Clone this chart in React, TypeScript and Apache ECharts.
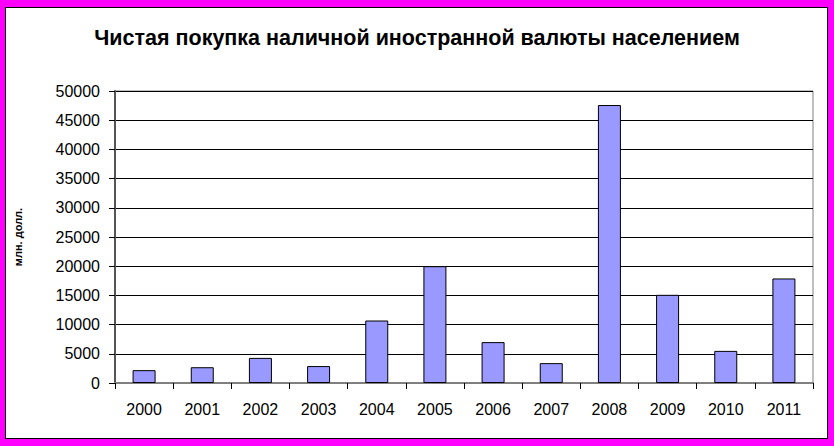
import React, { useEffect, useRef } from "react";
import * as echarts from "echarts";

const years = ["2000", "2001", "2002", "2003", "2004", "2005", "2006", "2007", "2008", "2009", "2010", "2011"];
const purchases = [2200, 2700, 4300, 2900, 10700, 20000, 7000, 3400, 47600, 15100, 5500, 17900];
const titleText = "Чистая покупка наличной иностранной валюты населением";
const yAxisName = "млн. долл.";

export default function App() {
  const ref = useRef<HTMLDivElement>(null);
  useEffect(() => {
    if (!ref.current) return;
    const chart = echarts.init(ref.current, null, { renderer: "svg" });
    chart.setOption({
      animation: false,
      title: {
        text: titleText,
        left: "center",
        top: 22,
        textStyle: { fontFamily: "Liberation Sans, Arial, sans-serif", fontSize: 21.5, fontWeight: "bold", color: "#000" },
      },
      grid: { left: 115, right: 21, top: 91, bottom: 63, show: true, borderColor: "#808080", borderWidth: 1, backgroundColor: "transparent" },
      xAxis: {
        type: "category",
        data: years,
        axisLine: { lineStyle: { color: "#808080", width: 2 } },
        axisTick: { show: true, length: 6, lineStyle: { color: "#000" } },
        axisLabel: { color: "#000", fontSize: 16, fontFamily: "Liberation Sans, Arial, sans-serif", margin: 18 },
      },
      yAxis: {
        type: "value",
        min: 0,
        max: 50000,
        interval: 5000,
        name: yAxisName,
        nameLocation: "middle",
        nameGap: 92,
        nameTextStyle: { color: "#000", fontSize: 11, fontWeight: "bold", fontFamily: "Liberation Sans, Arial, sans-serif" },
        axisLine: { show: true, lineStyle: { color: "#555", width: 2 } },
        axisTick: { show: true, length: 6, lineStyle: { color: "#000" } },
        axisLabel: {
          color: "#000",
          fontSize: 16,
          fontFamily: "Liberation Sans, Arial, sans-serif",
          margin: 15,
          formatter: (v: number) => String(v),
        },
        splitLine: { show: true, lineStyle: { color: "#000", width: 1 } },
      },
      series: [
        {
          type: "bar",
          data: purchases,
          barWidth: 23,
          itemStyle: { color: "#9999FF", borderColor: "#000", borderWidth: 1 },
        },
      ],
    });
    return () => chart.dispose();
  }, []);
  return (
    <div style={{ position: "fixed", left: 0, top: 0, width: 834, height: 446, background: "#FF00FF" }}>
      <div
        style={{
          position: "absolute",
          left: 5,
          top: 7,
          width: 823,
          height: 432,
          boxSizing: "border-box",
          border: "1px solid #000",
          background: "#fff",
        }}
      />
      <div ref={ref} style={{ position: "absolute", left: 0, top: 0, width: 834, height: 446 }} />
    </div>
  );
}
